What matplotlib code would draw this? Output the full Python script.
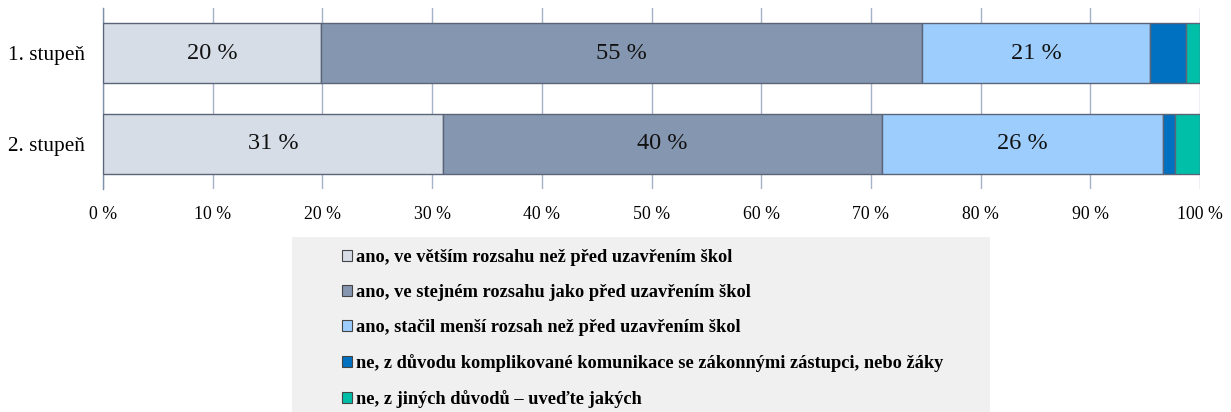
import matplotlib
matplotlib.use("Agg")
import matplotlib.pyplot as plt
from matplotlib.patches import Rectangle

plt.rcParams['font.family'] = ['Liberation Serif', 'DejaVu Serif']

categories = ["1. stupeň", "2. stupeň"]
series_names = [
    "ano, ve větším rozsahu než před uzavřením škol",
    "ano, ve stejném rozsahu jako před uzavřením škol",
    "ano, stačil menší rozsah než před uzavřením škol",
    "ne, z důvodu komplikované komunikace se zákonnými zástupci, nebo žáky",
    "ne, z jiných důvodů – uveďte jakých",
]
vetsi = [19.9, 31.0]
stejny = [54.8, 40.0]
mensi = [20.7, 25.6]
komunikace = [3.3, 1.1]
jine = [1.3, 2.3]
values = [vetsi, stejny, mensi, komunikace, jine]
labeled = [True, True, True, False, False]
colors = ["#d6dde6", "#8596b0", "#9dcdfd", "#0070c0", "#00bfa8"]
xticks = list(range(0, 101, 10))
xticklabels = [f"{t} %" for t in xticks]

fig = plt.figure(figsize=(12.31, 4.12), dpi=100)
ax = fig.add_axes([103/1231, 1-189/412, (1200-103)/1231, (189-8)/412])

ypos = list(range(len(categories)))
left = [0.0] * len(categories)
handles = []
for vals, name, col, lab in zip(values, series_names, colors, labeled):
    bars = ax.barh(ypos, vals, left=left, height=0.667, color=col,
                   edgecolor="#5b6578", linewidth=1.0, label=name, zorder=3)
    handles.append(bars)
    if lab:
        ax.bar_label(bars, labels=[f"{v:.0f} %" for v in vals], label_type="center",
                     fontsize=17.5, color="#111111")
    left = [l + v for l, v in zip(left, vals)]

ax.set_xlim(0, 100)
ax.set_ylim(-0.5, 1.5)
ax.invert_yaxis()
ax.set_yticks(ypos)
ax.set_yticklabels(categories, fontsize=15.3)
ax.set_xticks(xticks)
ax.set_xticklabels(xticklabels, fontsize=12.8)
ax.tick_params(axis='both', length=0)
ax.tick_params(axis='x', pad=12)
ax.tick_params(axis='y', pad=13)
ax.grid(axis='x', color="#a4b2c8", linewidth=1.0, zorder=0)
ax.set_axisbelow(True)
for s in ["top", "right", "bottom"]:
    ax.spines[s].set_visible(False)
ax.spines["left"].set_color("#8090aa")
ax.spines["left"].set_linewidth(1.0)

fig.patches.append(Rectangle((292/1231, 0), (990-292)/1231, 1-237/412,
                             transform=fig.transFigure, facecolor="#f0f0f0",
                             edgecolor="none", zorder=0))

leg = fig.legend(handles=handles, labels=series_names, loc="upper left",
                 bbox_to_anchor=(335/1231, 1-242/412), frameon=False,
                 prop={'weight': 'bold', 'size': 13.2},
                 handlelength=0.55, handleheight=0.55, handletextpad=0.2,
                 labelspacing=0.98, borderaxespad=0)
for h in leg.legend_handles:
    h.set_edgecolor("#444444")
    h.set_linewidth(0.8)

fig.savefig("out.png", dpi=100)
